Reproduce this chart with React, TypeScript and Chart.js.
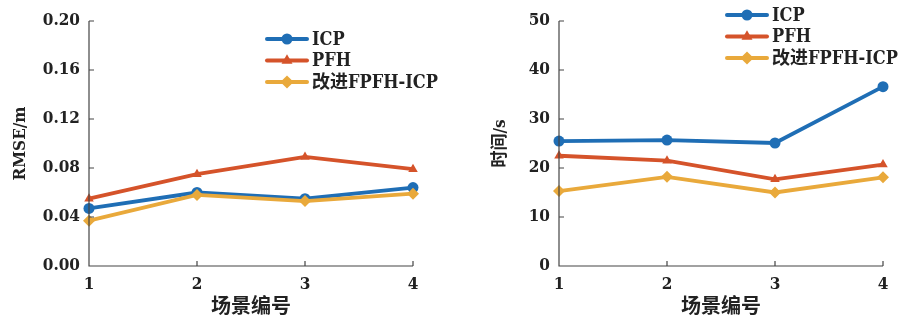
import React, { useEffect, useRef } from "react";
import { Chart, registerables } from "chart.js";

Chart.register(...registerables);

const categories = ["1", "2", "3", "4"];
const seriesNames = ["ICP", "PFH", "改进FPFH-ICP"];

const rmseICP = [0.047, 0.060, 0.055, 0.064];
const rmsePFH = [0.055, 0.075, 0.089, 0.079];
const rmseImproved = [0.037, 0.058, 0.053, 0.059];

const timeICP = [25.5, 25.7, 25.1, 36.6];
const timePFH = [22.5, 21.5, 17.7, 20.7];
const timeImproved = [15.3, 18.2, 15.0, 18.1];

const rmseTicks = [0, 0.04, 0.08, 0.12, 0.16, 0.2];
const timeTicks = [0, 10, 20, 30, 40, 50];

const COLORS = ["#1F6EB5", "#D5532A", "#E9A93B"];
const POINTS = ["circle", "triangle", "rectRot"];
const FAMILY = "'DejaVu Serif Condensed', 'DejaVu Serif', 'Noto Sans CJK SC', serif";
const TEXT = "#222";
const AXIS = "#444";

function drawMarker(ctx: CanvasRenderingContext2D, style: string, x: number, y: number, r: number) {
  ctx.beginPath();
  if (style === "circle") {
    ctx.arc(x, y, r, 0, Math.PI * 2);
  } else if (style === "triangle") {
    ctx.moveTo(x, y - r * 1.15);
    ctx.lineTo(x + r, y + r * 0.6);
    ctx.lineTo(x - r, y + r * 0.6);
    ctx.closePath();
  } else {
    ctx.moveTo(x, y - r * 1.2);
    ctx.lineTo(x + r * 1.2, y);
    ctx.lineTo(x, y + r * 1.2);
    ctx.lineTo(x - r * 1.2, y);
    ctx.closePath();
  }
  ctx.fill();
}

const inlineLegend = {
  id: "inlineLegend",
  afterDraw(chart: any, _args: any, opts: any) {
    const ctx = chart.ctx as CanvasRenderingContext2D;
    const area = chart.chartArea;
    const x0 = area.left + opts.dx;
    const y0 = area.top + opts.dy;
    ctx.save();
    chart.data.datasets.forEach((ds: any, i: number) => {
      const y = y0 + i * opts.spacing;
      ctx.strokeStyle = ds.borderColor;
      ctx.fillStyle = ds.borderColor;
      ctx.lineWidth = 4;
      ctx.lineCap = "round";
      ctx.beginPath();
      ctx.moveTo(x0, y);
      ctx.lineTo(x0 + 40, y);
      ctx.stroke();
      drawMarker(ctx, ds.pointStyle, x0 + 20, y, 5.5);
      ctx.fillStyle = TEXT;
      ctx.font = `bold ${opts.fontSize}px ${FAMILY}`;
      ctx.textBaseline = "middle";
      ctx.textAlign = "left";
      ctx.fillText(ds.label, x0 + 45, y + 1);
    });
    ctx.restore();
  },
};

const inwardTicks = {
  id: "inwardTicks",
  afterDraw(chart: any) {
    const ctx = chart.ctx as CanvasRenderingContext2D;
    const xs = chart.scales.x;
    const ys = chart.scales.y;
    const area = chart.chartArea;
    ctx.save();
    ctx.strokeStyle = AXIS;
    ctx.lineWidth = 1.2;
    ctx.beginPath();
    ys.ticks.forEach((_t: any, i: number) => {
      const py = ys.getPixelForTick(i);
      ctx.moveTo(area.left, py);
      ctx.lineTo(area.left + 5, py);
    });
    xs.ticks.forEach((_t: any, i: number) => {
      const px = xs.getPixelForTick(i);
      ctx.moveTo(px, area.bottom);
      ctx.lineTo(px, area.bottom - 5);
    });
    ctx.moveTo(area.left, area.top);
    ctx.lineTo(area.left, area.bottom);
    ctx.lineTo(area.right, area.bottom);
    ctx.stroke();
    ctx.restore();
  },
};

function makeConfig(
  values: number[][],
  yMin: number,
  yMax: number,
  yTicks: number[],
  decimals: number,
  yTitle: string,
  yWidth: number,
  yTitlePad: number,
  padRight: number,
  legend: { dx: number; dy: number }
) {
  return {
    type: "line" as const,
    data: {
      labels: categories,
      datasets: values.map((v, i) => ({
        label: seriesNames[i],
        data: v,
        borderColor: COLORS[i],
        backgroundColor: COLORS[i],
        pointBackgroundColor: COLORS[i],
        pointBorderColor: COLORS[i],
        pointStyle: POINTS[i],
        pointRadius: i === 2 ? 6 : 5.5,
        pointBorderWidth: 0,
        borderWidth: 3.8,
        tension: 0,
        order: 2 - i,
        clip: false as any,
      })),
    },
    options: {
      animation: false as const,
      responsive: false,
      events: [],
      layout: { padding: { top: 21, right: padRight, bottom: 0, left: 0 } },
      plugins: {
        legend: { display: false },
        tooltip: { enabled: false },
        inlineLegend: { ...legend, spacing: 21.5, fontSize: 18 },
      },
      scales: {
        x: {
          type: "category" as const,
          offset: false,
          grid: { display: false, drawTicks: false },
          border: { display: false },
          ticks: {
            color: TEXT,
            padding: 8,
            font: { family: FAMILY, size: 17, weight: "bold" as const },
          },
          title: {
            display: true,
            text: "场景编号",
            color: TEXT,
            padding: { top: 0, bottom: 2 },
            font: { family: FAMILY, size: 20, weight: "bold" as const },
          },
          afterFit: (s: any) => {
            s.height = 56;
          },
        },
        y: {
          min: yMin,
          max: yMax,
          grid: { display: false, drawTicks: false },
          border: { display: false },
          afterBuildTicks: (s: any) => {
            s.ticks = yTicks.map((v) => ({ value: v }));
          },
          ticks: {
            color: TEXT,
            padding: 9,
            font: { family: FAMILY, size: 17, weight: "bold" as const },
            callback: (v: any) => Number(v).toFixed(decimals),
          },
          title: {
            display: true,
            text: yTitle,
            color: TEXT,
            padding: { top: yTitlePad, bottom: 0 },
            font: { family: FAMILY, size: 17, weight: "bold" as const },
          },
          afterFit: (s: any) => {
            s.width = yWidth;
          },
        },
      },
    },
    plugins: [inlineLegend, inwardTicks],
  };
}

function LineChart(props: { config: any; width: number; height: number; left: number }) {
  const ref = useRef<HTMLCanvasElement | null>(null);
  useEffect(() => {
    if (!ref.current) return;
    const chart = new Chart(ref.current, props.config);
    return () => chart.destroy();
  }, []);
  return (
    <canvas
      ref={ref}
      width={props.width}
      height={props.height}
      style={{ position: "absolute", left: props.left, top: 0, width: props.width, height: props.height }}
    />
  );
}

export default function App() {
  const leftCfg = makeConfig(
    [rmseICP, rmsePFH, rmseImproved],
    0,
    0.2,
    rmseTicks,
    2,
    "RMSE/m",
    89,
    10,
    37,
    { dx: 178, dy: 18 }
  );
  const rightCfg = makeConfig(
    [timeICP, timePFH, timeImproved],
    0,
    50,
    timeTicks,
    0,
    "时间/s",
    109,
    40,
    20,
    { dx: 168, dy: -6 }
  );
  return (
    <div style={{ position: "fixed", left: 0, top: 0, width: 903, height: 322, background: "#fff" }}>
      <LineChart config={leftCfg} width={450} height={322} left={0} />
      <LineChart config={rightCfg} width={453} height={322} left={450} />
    </div>
  );
}
